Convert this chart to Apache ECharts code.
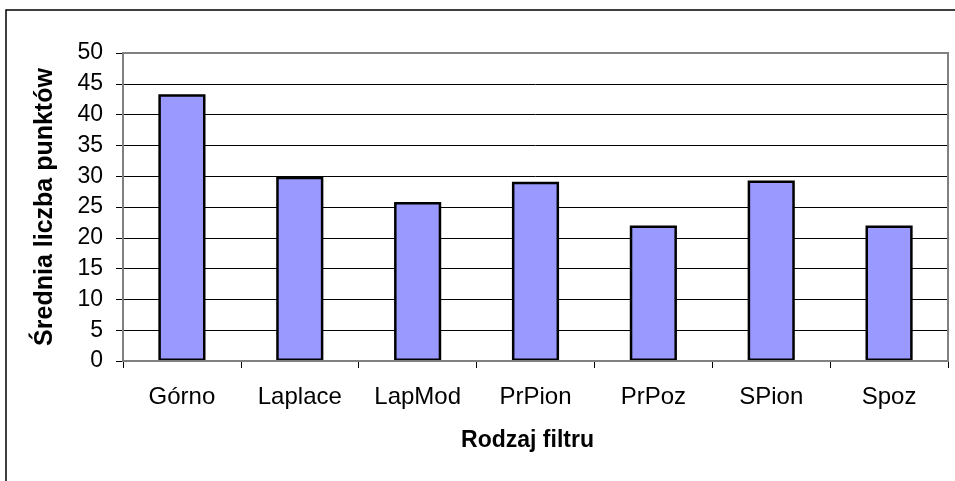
<!DOCTYPE html>
<html>
<head>
<meta charset="utf-8">
<script src="https://cdn.jsdelivr.net/npm/echarts@6/dist/echarts.min.js"></script>
<style>
  html, body { margin: 0; padding: 0; background: #fff; }
  #chart { width: 955px; height: 481px; }
</style>
</head>
<body>
<div id="chart"></div>
<script>
// dane
const categories = ["Górno", "Laplace", "LapMod", "PrPion", "PrPoz", "SPion", "Spoz"];
const values = [43.3, 29.9, 25.8, 29.1, 22.0, 29.3, 22.0];
const yTicks = [0, 5, 10, 15, 20, 25, 30, 35, 40, 45, 50];

const font = "Liberation Sans, Arial, sans-serif";
// obszar wykresu (plot area)
const plot = { left: 123, top: 53, right: 948, bottom: 361 };

const chart = echarts.init(document.getElementById("chart"));
const option = {
  animation: false,
  grid: {
    left: plot.left,
    top: plot.top,
    width: plot.right - plot.left,
    height: plot.bottom - plot.top,
  },
  xAxis: {
    type: "category",
    data: categories,
    name: "Rodzaj filtru",
    nameLocation: "middle",
    nameGap: 68,
    nameTextStyle: { fontFamily: font, fontSize: 23, fontWeight: "bold", color: "#000", padding: [0, 16, 0, 0] },
    axisLine: { lineStyle: { color: "#808080", width: 2 } },
    axisTick: { show: true, length: 7, lineStyle: { color: "#000" } },
    axisLabel: { fontFamily: font, fontSize: 24, color: "#000", margin: 24 },
  },
  yAxis: {
    type: "value",
    min: yTicks[0],
    max: yTicks[yTicks.length - 1],
    interval: yTicks[1] - yTicks[0],
    name: "Średnia liczba punktów",
    nameLocation: "middle",
    nameGap: 65,
    nameTextStyle: { fontFamily: font, fontSize: 25, fontWeight: "bold", color: "#000" },
    axisLine: { show: true, lineStyle: { color: "#808080", width: 2 } },
    axisTick: { show: true, length: 7, lineStyle: { color: "#000" } },
    axisLabel: { fontFamily: font, fontSize: 23, color: "#000", margin: 20 },
    splitLine: { lineStyle: { color: "#000", width: 1 } },
  },
  series: [
    {
      type: "bar",
      data: values,
      barWidth: "40%",
      itemStyle: { color: "#9999FF", borderColor: "#000", borderWidth: 2.5 },
    },
  ],
  graphic: [
    {
      // ramka całego wykresu
      type: "rect",
      shape: { x: 6, y: 10, width: 1000, height: 600 },
      style: { fill: null, stroke: "#000", lineWidth: 1.5 },
      z: 0,
    },
    {
      // ramka obszaru wykresu
      type: "rect",
      shape: { x: plot.left, y: plot.top, width: plot.right - plot.left, height: plot.bottom - plot.top },
      style: { fill: null, stroke: "#808080", lineWidth: 2 },
      z: 5,
    },
  ],
};
chart.setOption(option);
</script>
</body>
</html>
